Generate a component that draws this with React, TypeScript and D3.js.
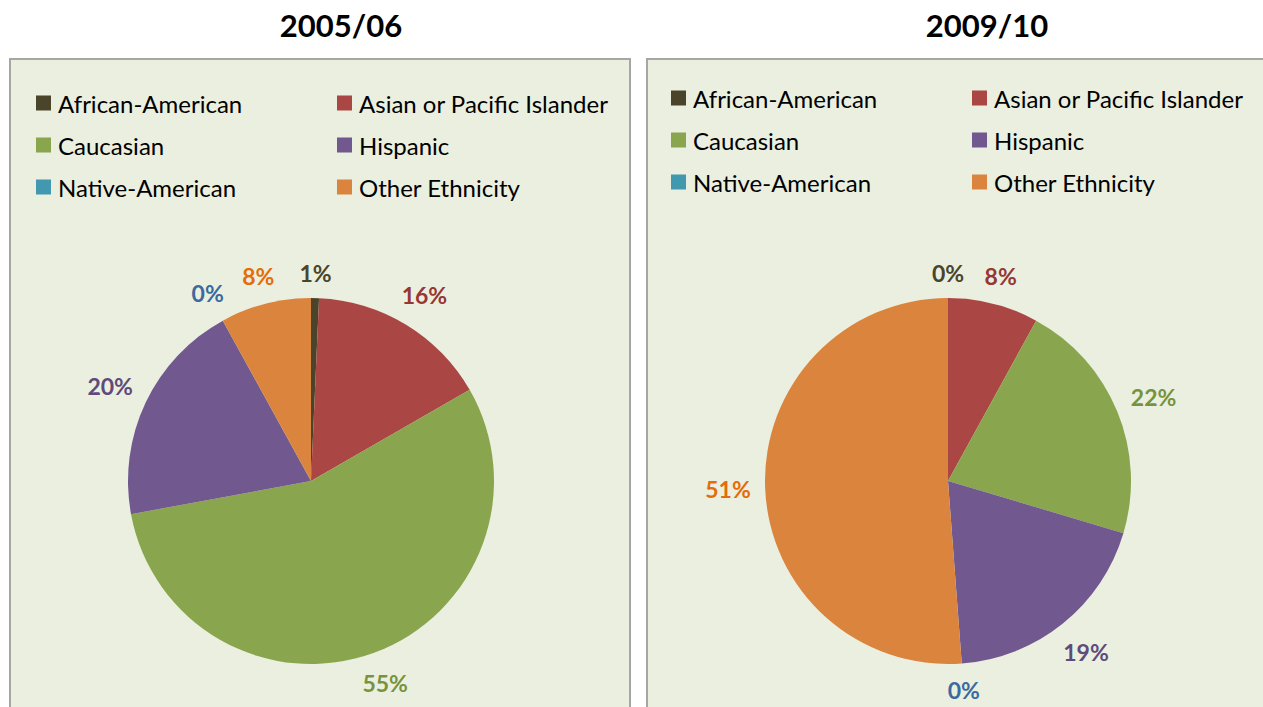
import { useEffect, useRef } from 'react';
import * as d3 from 'd3';

const categories = [
  'African-American',
  'Asian or Pacific Islander',
  'Caucasian',
  'Hispanic',
  'Native-American',
  'Other Ethnicity',
];
const values0506 = [0.7, 16.0, 55.4, 19.9, 0, 8.0];
const values0910 = [0, 8.0, 21.6, 19.2, 0, 51.2];
const labels0506 = ['1%', '16%', '55%', '20%', '0%', '8%'];
const labels0910 = ['0%', '8%', '22%', '19%', '0%', '51%'];
const titles = ['2005/06', '2009/10'];

const sliceColors = ['#4a452a', '#aa4643', '#89a54e', '#71588f', '#4198af', '#db843d'];
const labelColors = ['#4a452a', '#953735', '#77933c', '#604a7b', '#3a6aa0', '#e46c0a'];

function App() {
  const svgRef = useRef(null);

  const createGraph = () => {
    const width = 1263,
      height = 707;
    const svg = d3.select(svgRef.current);
    svg.selectAll('*').remove();
    svg.attr('width', width).attr('height', height);
    svg.append('rect').attr('width', width).attr('height', height).attr('fill', '#ffffff');

    const font = 'Lato, "Open Sans", sans-serif';

    const panels = [
      { x: 10, w: 620, values: values0506, labels: labels0506, title: titles[0], cx: 311, titleX: 341, legX: 36, legX2: 337, legY: 103 },
      { x: 647, w: 630, values: values0910, labels: labels0910, title: titles[1], cx: 948, titleX: 987, legX: 671, legX2: 972, legY: 98 },
    ];

    const pie = d3
      .pie()
      .sort(null)
      .value((d) => d);
    const radius = 183;
    const gap = 14;
    const arc = d3.arc().innerRadius(0).outerRadius(radius);

    panels.forEach((p) => {
      svg
        .append('text')
        .attr('x', p.titleX)
        .attr('y', 25)
        .attr('text-anchor', 'middle')
        .attr('dominant-baseline', 'central')
        .attr('font-family', font)
        .attr('font-weight', 'bold')
        .attr('font-size', 31)
        .attr('fill', '#000')
        .text(p.title);

      svg
        .append('rect')
        .attr('x', p.x)
        .attr('y', 59)
        .attr('width', p.w)
        .attr('height', 700)
        .attr('fill', '#ebefdf')
        .attr('stroke', '#a6a6a6')
        .attr('stroke-width', 2);

      // legend, two columns
      const leg = svg.append('g');
      categories.forEach((c, i) => {
        const col = i % 2;
        const row = Math.floor(i / 2);
        const lx = col === 0 ? p.legX : p.legX2;
        const ly = p.legY + row * 42;
        leg
          .append('rect')
          .attr('x', lx)
          .attr('y', ly - 7.5)
          .attr('width', 15)
          .attr('height', 15)
          .attr('fill', sliceColors[i]);
        leg
          .append('text')
          .attr('x', lx + 22)
          .attr('y', ly)
          .attr('dominant-baseline', 'central')
          .attr('font-family', font)
          .attr('font-size', 24)
          .attr('fill', '#000')
          .text(c);
      });

      const g = svg.append('g').attr('transform', `translate(${p.cx}, 481)`);
      const arcs = pie(p.values);

      g.selectAll('path')
        .data(arcs)
        .enter()
        .append('path')
        .attr('d', arc)
        .attr('fill', (d, i) => sliceColors[i]);

      // labels sit just outside the rim, pushed out by their own half-size
      g.selectAll('text')
        .data(arcs)
        .enter()
        .append('text')
        .attr('text-anchor', 'middle')
        .attr('dominant-baseline', 'central')
        .attr('font-family', font)
        .attr('font-weight', 'bold')
        .attr('font-size', 23)
        .attr('fill', (d, i) => labelColors[i])
        .text((d, i) => p.labels[i])
        .attr('transform', function (d) {
          const a = (d.startAngle + d.endAngle) / 2;
          const halfW = this.getComputedTextLength() / 2;
          const halfH = 11;
          const r = radius + gap + Math.abs(Math.sin(a)) * halfW + Math.abs(Math.cos(a)) * halfH;
          return `translate(${Math.sin(a) * r}, ${-Math.cos(a) * r})`;
        });
    });
  };

  useEffect(() => {
    createGraph();
  }, []);

  return (
    <div style={{ position: 'absolute', left: 0, top: 0 }}>
      <svg ref={svgRef} style={{ display: 'block' }}></svg>
    </div>
  );
}

export default App;
